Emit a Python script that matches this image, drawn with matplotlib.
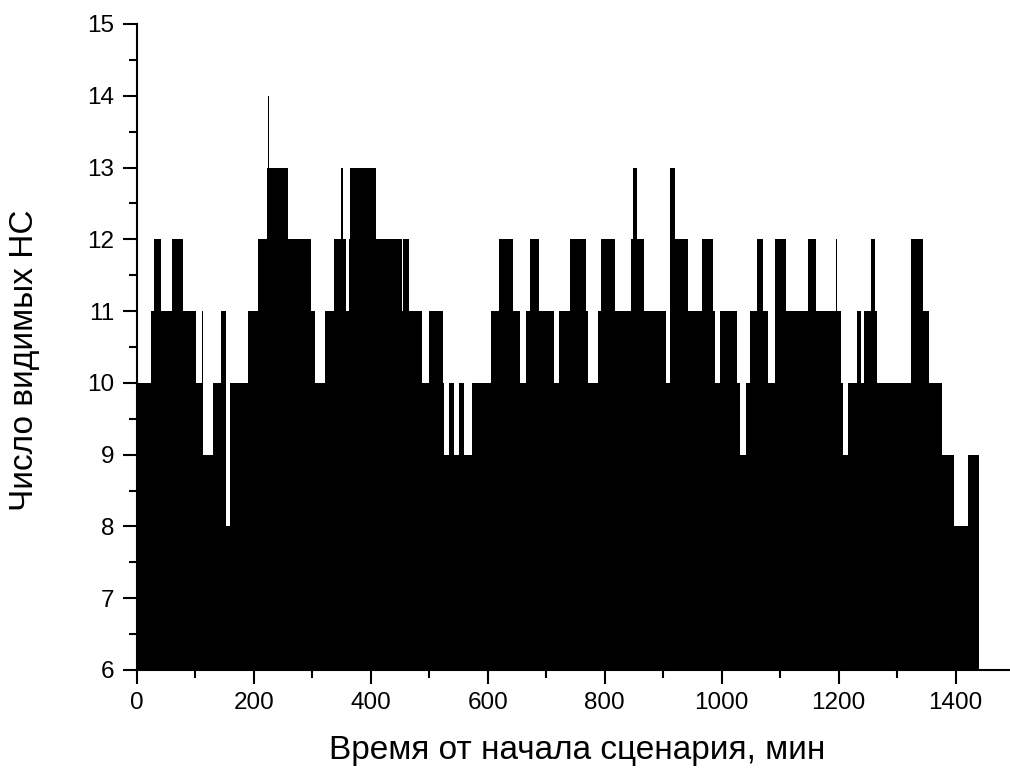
import matplotlib
matplotlib.use("Agg")
import matplotlib.pyplot as plt
from matplotlib.ticker import MultipleLocator
import numpy as np

plt.rcParams['font.family'] = ['Liberation Sans', 'DejaVu Sans']

# Step boundaries (minutes) and number of visible satellites in each interval
edges = [0, 2, 24, 30, 41, 61, 79, 102, 111, 113, 131, 145, 152, 160, 190, 207,
         222, 225, 227, 259, 298, 305, 322, 338, 350, 353, 358, 363, 365, 409,
         454, 455, 466, 487, 499, 523, 526, 534, 543, 551, 559, 574, 606, 620,
         644, 656, 665, 673, 687, 713, 722, 740, 768, 771, 788, 793, 817, 845,
         849, 855, 868, 905, 911, 920, 942, 966, 986, 989, 998, 1026, 1031,
         1041, 1048, 1061, 1071, 1080, 1092, 1110, 1148, 1161, 1196, 1197,
         1204, 1207, 1216, 1232, 1238, 1244, 1255, 1263, 1265, 1324, 1345,
         1354, 1377, 1397, 1422, 1440]
levels = [9, 10, 11, 12, 11, 12, 11, 10, 11, 9, 10, 11, 8, 10, 11, 12,
          13, 14, 13, 12, 11, 10, 11, 12, 13, 12, 11, 12, 13,
          12, 11, 12, 11, 10, 11, 10, 9, 10, 9, 10, 9, 10, 11,
          12, 11, 10, 11, 12, 11, 10, 11, 12, 11, 10, 11, 12, 11,
          12, 13, 12, 11, 10, 13, 12, 11, 12, 11, 10, 11, 10,
          9, 10, 11, 12, 11, 10, 12, 11, 12, 11, 12,
          11, 10, 9, 10, 11, 10, 11, 12, 11, 10, 12,
          11, 10, 9, 8, 9]

xlabel = "Время от начала сценария, мин"
ylabel = "Число видимых НС"

fig = plt.figure(figsize=(10.10, 7.74), dpi=100)
ax = fig.add_axes([0.1353, 0.1344, 1.0 - 0.1353, 0.969 - 0.1344])

ax.stairs(levels, edges, baseline=6, fill=True, color='black', linewidth=0)

ax.set_xlim(0, 1493)
ax.set_ylim(6, 15)

ax.spines['top'].set_visible(False)
ax.spines['right'].set_visible(False)
for s in ('left', 'bottom'):
    ax.spines[s].set_linewidth(1.5)

ax.xaxis.set_major_locator(MultipleLocator(200))
ax.xaxis.set_minor_locator(MultipleLocator(100))
ax.yaxis.set_major_locator(MultipleLocator(1))
ax.yaxis.set_minor_locator(MultipleLocator(0.5))

ax.tick_params(which='major', direction='out', length=10, width=1.5,
               labelsize=17.5, pad=6)
ax.tick_params(which='minor', direction='out', length=6, width=1.5)

ax.set_xlabel(xlabel, fontsize=24)
ax.set_ylabel(ylabel, fontsize=24)
ax.xaxis.set_label_coords(0.504, -0.124)
ax.xaxis.label.set_va('center')
ax.yaxis.set_label_coords(-0.128, 0.48)
ax.yaxis.label.set_va('center')

ax.set_clip_on(False)
fig.savefig("out.png", dpi=100)
